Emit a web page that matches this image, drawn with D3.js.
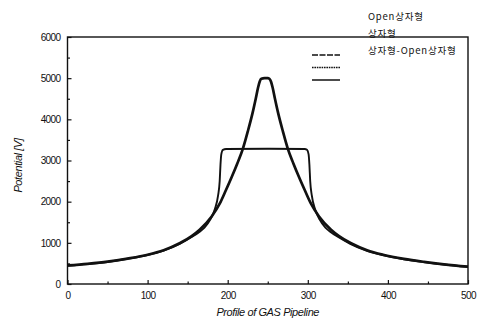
<!DOCTYPE html>
<html>
<head>
<meta charset="utf-8">
<script src="https://cdn.jsdelivr.net/npm/d3@7"></script>
<style>
  body { margin: 0; background: #fff; }
  svg { display: block; }
</style>
</head>
<body>
<div id="chart"></div>
<script>
// peaked curve (x position along pipeline, potential V)
const peakX = [0, 25, 50, 75, 100, 120, 140, 155, 165, 180, 190, 198, 205, 212, 219, 225, 231, 235, 238, 240, 242, 246,
    250, 252, 254, 256, 259, 263, 269, 275, 282, 289, 296, 304, 314, 329, 339, 354, 374, 394, 420, 445, 470, 500];
const peakV = [450, 490, 542, 618, 712, 822, 990, 1165, 1320, 1640, 1950, 2290, 2600, 2930, 3290, 3700, 4150, 4500, 4780, 4920, 4985, 5000,
    5000, 4985, 4920, 4780, 4500, 4150, 3700, 3290, 2930, 2600, 2290, 1950, 1640, 1320, 1165, 990, 822, 712, 610, 538, 478, 420];

// box shaped curve
const boxX = [0, 25, 50, 75, 100, 120, 140, 155, 165, 171, 178, 184, 188, 190, 191, 192, 194, 198, 250, 296,
    299, 301, 302, 303, 305, 309, 315, 322, 328, 338, 353, 373, 393, 420, 445, 470, 500];
const boxV = [440, 482, 536, 612, 705, 812, 975, 1140, 1270, 1370, 1560, 1820, 2150, 2500, 2900, 3150, 3260, 3280, 3285, 3280,
    3260, 3150, 2900, 2500, 2150, 1820, 1560, 1370, 1270, 1140, 975, 812, 705, 600, 532, 472, 415];

const legendNames = ["Open상자형", "상자형", "상자형-Open상자형"];
const xTicks = [0, 100, 200, 300, 400, 500];
const yTicks = [0, 1000, 2000, 3000, 4000, 5000, 6000];

const width = 482;
const height = 320;
const margin = { left: 67.5, right: 14, top: 37, bottom: 36 };

const svg = d3.select("#chart")
    .append("svg")
    .attr("width", width)
    .attr("height", height);

const x = d3.scaleLinear().domain([0, 500]).range([margin.left, width - margin.right]);
const y = d3.scaleLinear().domain([0, 6000]).range([height - margin.bottom, margin.top]);

// frame
svg.append("rect")
    .attr("x", x(0))
    .attr("y", y(6000))
    .attr("width", x(500) - x(0))
    .attr("height", y(0) - y(6000))
    .attr("fill", "none")
    .attr("stroke", "#111")
    .attr("stroke-width", 1.4);

// ticks point inward
const gx = svg.append("g")
    .attr("transform", `translate(0,${y(0)})`)
    .call(d3.axisBottom(x).tickValues(xTicks).tickSize(-4).tickPadding(8).tickFormat(d3.format("d")));
gx.select(".domain").remove();
svg.append("g")
    .attr("transform", `translate(0,${y(0)})`)
    .call(d3.axisBottom(x).tickValues([50, 150, 250, 350, 450]).tickSize(-2.5).tickFormat(""))
    .select(".domain").remove();

const gy = svg.append("g")
    .attr("transform", `translate(${x(0)},0)`)
    .call(d3.axisLeft(y).tickValues(yTicks).tickSize(-4).tickPadding(7).tickFormat(d3.format("d")));
gy.select(".domain").remove();
svg.append("g")
    .attr("transform", `translate(${x(0)},0)`)
    .call(d3.axisLeft(y).tickValues([500, 1500, 2500, 3500, 4500, 5500]).tickSize(-2.5).tickFormat(""))
    .select(".domain").remove();

svg.selectAll(".tick line").attr("stroke", "#111").attr("stroke-width", 1.2);
svg.selectAll(".tick text")
    .attr("fill", "#111")
    .attr("font-family", null)
    .style("font-family", "'Liberation Sans', Arial, sans-serif")
    .style("font-size", "10px")
    .style("letter-spacing", "-0.6px");

// curves
const line = d3.line()
    .x(d => x(d[0]))
    .y(d => y(d[1]))
    .curve(d3.curveMonotoneX);

svg.append("path")
    .datum(boxX.map((v, i) => [v, boxV[i]]))
    .attr("d", line)
    .attr("fill", "none")
    .attr("stroke", "#111")
    .attr("stroke-width", 1.9);

svg.append("path")
    .datum(peakX.map((v, i) => [v, peakV[i]]))
    .attr("d", line)
    .attr("fill", "none")
    .attr("stroke", "#111")
    .attr("stroke-width", 2.7);

// legend
const dashes = ["6,1.5", "1.6,0.8", null];
legendNames.forEach((name, i) => {
    svg.append("line")
        .attr("x1", 312)
        .attr("x2", 340)
        .attr("y1", 55 + i * 12.5)
        .attr("y2", 55 + i * 12.5)
        .attr("stroke", "#111")
        .attr("stroke-width", 1.5)
        .attr("stroke-dasharray", dashes[i]);

    svg.append("text")
        .attr("x", 368)
        .attr("y", 20 + i * 17)
        .style("font-family", "'Noto Sans CJK KR', sans-serif")
        .style("font-size", "9.5px")
        .style("letter-spacing", "0.8px")
        .attr("fill", "#111")
        .text(name);
});

// axis titles
svg.append("text")
    .attr("x", (x(0) + x(500)) / 2)
    .attr("y", 316)
    .attr("text-anchor", "middle")
    .style("font-family", "'Liberation Sans', Arial, sans-serif")
    .style("font-size", "11px")
    .style("font-style", "italic")
    .style("letter-spacing", "-0.4px")
    .attr("fill", "#111")
    .text("Profile of GAS Pipeline");

svg.append("text")
    .attr("transform", `translate(22,${(y(0) + y(6000)) / 2 + 5}) rotate(-90)`)
    .attr("text-anchor", "middle")
    .style("font-family", "'Liberation Sans', Arial, sans-serif")
    .style("font-size", "11px")
    .style("font-style", "italic")
    .style("letter-spacing", "-0.4px")
    .attr("fill", "#111")
    .text("Potential [V]");
</script>
</body>
</html>
